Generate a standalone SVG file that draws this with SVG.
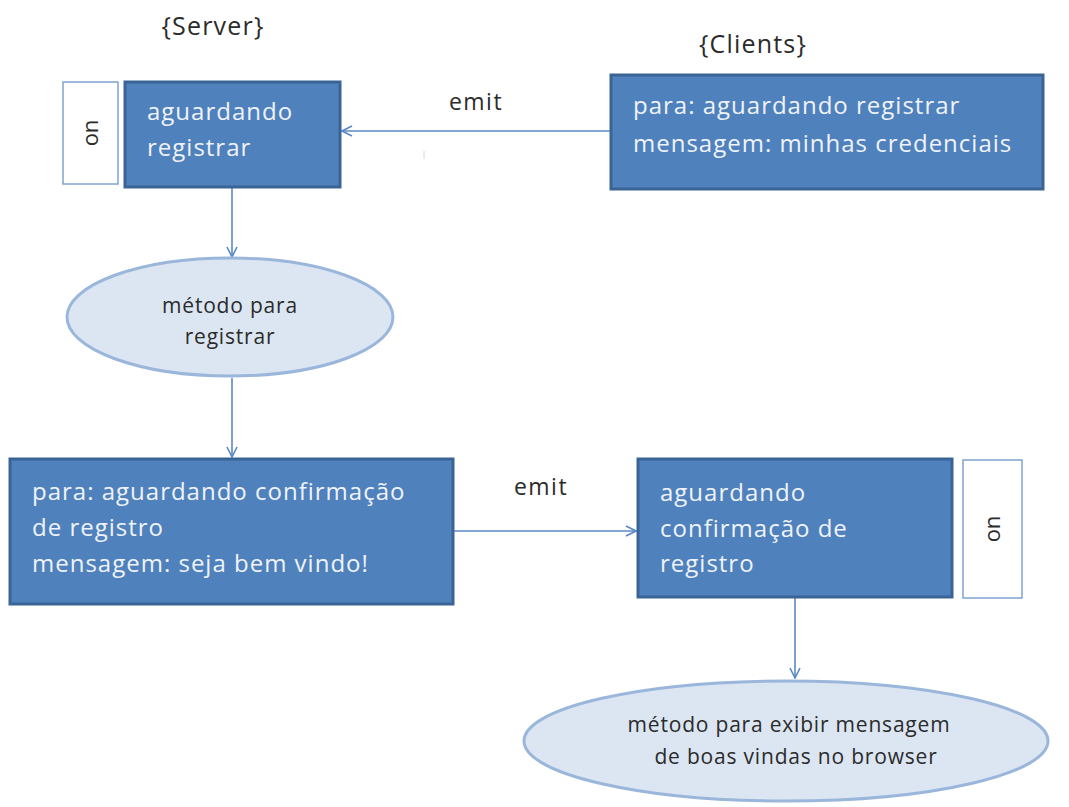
<svg xmlns="http://www.w3.org/2000/svg" width="1069" height="807" viewBox="0 0 1069 807">
  <style>
    .box { fill: #4f81bd; stroke: #3a6496; stroke-width: 3; }
    .tag { fill: #ffffff; stroke: #7fa3d0; stroke-width: 1.5; }
    .oval { fill: #dce6f2; stroke: #9ab6da; stroke-width: 3; }
    .light { font-family: "Open Sans", "Noto Sans", sans-serif; font-size: 24px; letter-spacing: 1px; fill: #f0f3f8; }
    .dark { font-family: "Open Sans", "Noto Sans", sans-serif; fill: #2b2b2b; }
    .small { font-size: 21px; letter-spacing: 0.8px; }
    .wire { fill: none; stroke: #5a88c6; stroke-width: 1.6; }
  </style>
  <defs>
    <marker id="open" viewBox="0 0 12 12" refX="11" refY="6" markerWidth="12" markerHeight="12" markerUnits="userSpaceOnUse" orient="auto">
      <path d="M1,1 L11,6 L1,11" fill="none" stroke="#5a88c6" stroke-width="1.6"/>
    </marker>
  </defs>
  <rect width="1069" height="807" fill="#ffffff"/>

  <!-- column headings -->
  <text class="dark" x="213" y="35" font-size="25" letter-spacing="1.2" text-anchor="middle">{Server}</text>
  <text class="dark" x="753" y="53" font-size="25" letter-spacing="1.2" text-anchor="middle">{Clients}</text>

  <!-- connectors -->
  <g id="connectors">
    <line class="wire" x1="610" y1="131" x2="342" y2="131" marker-end="url(#open)"/>
    <text class="dark" x="476" y="110" font-size="23" letter-spacing="1.5" text-anchor="middle">emit</text>
    <line x1="424" y1="151" x2="424" y2="159" stroke="#d8d8d8" stroke-width="1"/>
    <line class="wire" x1="232" y1="188" x2="232" y2="257" marker-end="url(#open)"/>
    <line class="wire" x1="232" y1="378" x2="232" y2="457" marker-end="url(#open)"/>
    <line class="wire" x1="454" y1="531" x2="636" y2="531" marker-end="url(#open)"/>
    <text class="dark" x="541" y="495" font-size="23" letter-spacing="1.5" text-anchor="middle">emit</text>
    <line class="wire" x1="795" y1="598" x2="795" y2="678" marker-end="url(#open)"/>
  </g>

  <!-- server listener: registration -->
  <g id="on-registrar">
    <rect class="tag" x="63" y="82" width="55" height="102"/>
    <text class="dark" x="0" y="0" font-size="22" text-anchor="middle" transform="translate(98,133) rotate(-90)">on</text>
  </g>
  <g id="aguardando-registrar">
    <rect class="box" x="125" y="82" width="215" height="105"/>
    <text class="light" x="147" y="120">aguardando</text>
    <text class="light" x="147" y="156">registrar</text>
  </g>

  <!-- client emitter -->
  <g id="cliente-emit">
    <rect class="box" x="611" y="75" width="432" height="114"/>
    <text class="light" x="633" y="114">para: aguardando registrar</text>
    <text class="light" x="633" y="152">mensagem: minhas credenciais</text>
  </g>

  <!-- registration method -->
  <g id="metodo-registrar">
    <ellipse class="oval" cx="230" cy="317" rx="163" ry="59"/>
    <text class="dark small" x="230" y="313" text-anchor="middle">método  para</text>
    <text class="dark small" x="230" y="344" text-anchor="middle">registrar</text>
  </g>

  <!-- server emitter -->
  <g id="servidor-emit">
    <rect class="box" x="10" y="459" width="443" height="145"/>
    <text class="light" x="32" y="500">para: aguardando confirmação</text>
    <text class="light" x="32" y="536">de registro</text>
    <text class="light" x="32" y="572">mensagem: seja bem vindo!</text>
  </g>

  <!-- client listener: confirmation -->
  <g id="aguardando-confirmacao">
    <rect class="box" x="638" y="459" width="314" height="138"/>
    <text class="light" x="660" y="501">aguardando</text>
    <text class="light" x="660" y="537">confirmação de</text>
    <text class="light" x="660" y="572">registro</text>
  </g>
  <g id="on-confirmacao">
    <rect class="tag" x="963" y="460" width="59" height="138"/>
    <text class="dark" x="0" y="0" font-size="22" text-anchor="middle" transform="translate(1000,529) rotate(-90)">on</text>
  </g>

  <!-- welcome method -->
  <g id="metodo-exibir">
    <ellipse class="oval" cx="786" cy="741" rx="262" ry="60"/>
    <text class="dark small" x="789" y="732" text-anchor="middle">método  para exibir mensagem</text>
    <text class="dark small" x="796" y="764" text-anchor="middle">de  boas vindas no browser</text>
  </g>
</svg>
